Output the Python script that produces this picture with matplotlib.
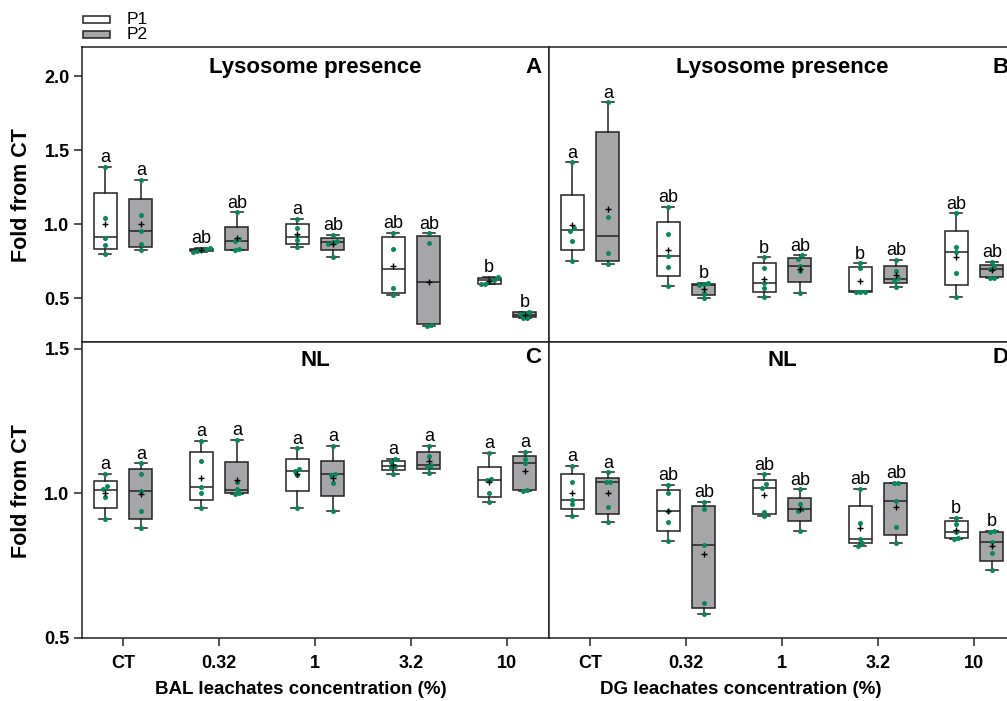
import numpy as np
import matplotlib
matplotlib.use("Agg")
import matplotlib.pyplot as plt
from matplotlib.patches import Rectangle

plt.rcParams['font.family'] = ['Liberation Sans', 'DejaVu Sans']

categories = ["CT", "0.32", "1", "3.2", "10"]
series = ["P1", "P2"]

# panel A - BAL, lysosome presence
bal_lyso_p1_pts = [[1.39, 1.04, 0.91, 0.86, 0.80], [0.84, 0.83, 0.825, 0.82, 0.815],
                   [1.036, 0.973, 0.921, 0.894, 0.845], [0.943, 0.831, 0.568, 0.522],
                   [0.645, 0.625, 0.62, 0.60, 0.595]]
bal_lyso_p1_q = [[0.835, 0.912, 1.209], [0.818, 0.825, 0.835], [0.867, 0.916, 1.0],
                 [0.538, 0.698, 0.912], [0.597, 0.622, 0.639]]
bal_lyso_p1_sig = ["a", "ab", "a", "ab", "b"]
bal_lyso_p2_pts = [[1.30, 1.061, 0.955, 0.865, 0.824], [1.081, 0.90, 0.89, 0.83, 0.824],
                   [0.928, 0.89, 0.88, 0.87, 0.781], [0.94, 0.876, 0.32, 0.31],
                   [0.41, 0.40, 0.395, 0.368, 0.365]]
bal_lyso_p2_q = [[0.849, 0.955, 1.171], [0.824, 0.889, 0.984], [0.826, 0.882, 0.905],
                 [0.324, 0.608, 0.921], [0.372, 0.39, 0.407]]
bal_lyso_p2_sig = ["a", "ab", "ab", "ab", "b"]

# panel B - DG, lysosome presence
dg_lyso_p1_pts = [[1.419, 0.975, 0.955, 0.887, 0.754], [1.119, 0.932, 0.786, 0.714, 0.583],
                  [0.777, 0.705, 0.601, 0.568, 0.507], [0.736, 0.703, 0.545, 0.545, 0.545],
                  [1.074, 0.849, 0.813, 0.669, 0.507]]
dg_lyso_p1_q = [[0.824, 0.959, 1.196], [0.653, 0.786, 1.018], [0.54, 0.603, 0.736],
                [0.545, 0.548, 0.713], [0.59, 0.813, 0.955]]
dg_lyso_p1_sig = ["a", "ab", "b", "b", "ab"]
dg_lyso_p2_pts = [[1.824, 1.047, 0.804, 0.73], [0.605, 0.60, 0.59, 0.534, 0.50],
                  [0.79, 0.765, 0.72, 0.684, 0.534], [0.759, 0.686, 0.635, 0.62, 0.574],
                  [0.747, 0.72, 0.70, 0.64, 0.635]]
dg_lyso_p2_q = [[0.752, 0.923, 1.624], [0.52, 0.59, 0.60], [0.612, 0.72, 0.77],
                [0.601, 0.628, 0.718], [0.642, 0.70, 0.725]]
dg_lyso_p2_sig = ["a", "b", "ab", "ab", "ab"]

# panel C - BAL, NL
bal_nl_p1_pts = [[1.069, 1.025, 1.015, 0.988, 0.911], [1.181, 1.111, 1.022, 1.0, 0.95],
                 [1.156, 1.083, 1.077, 1.063, 0.95], [1.12, 1.11, 1.096, 1.09, 1.069],
                 [1.141, 1.05, 1.045, 1.0, 0.969]]
bal_nl_p1_q = [[0.95, 1.011, 1.044], [0.977, 1.022, 1.143], [1.008, 1.077, 1.119],
               [1.081, 1.096, 1.113], [0.988, 1.045, 1.092]]
bal_nl_p1_sig = ["a", "a", "a", "a", "a"]
bal_nl_p2_pts = [[1.104, 1.066, 1.008, 0.94, 0.881], [1.185, 1.04, 1.014, 1.0, 0.998],
                 [1.165, 1.068, 1.065, 1.035, 0.939], [1.165, 1.129, 1.098, 1.092, 1.071],
                 [1.144, 1.12, 1.105, 1.011, 1.009]]
bal_nl_p2_q = [[0.913, 1.008, 1.083], [1.0, 1.011, 1.109], [0.991, 1.066, 1.113],
               [1.083, 1.098, 1.144], [1.011, 1.107, 1.129]]
bal_nl_p2_sig = ["a", "a", "a", "a", "a"]

# panel D - DG, NL
dg_nl_p1_pts = [[1.095, 1.04, 0.979, 0.965, 0.922], [1.029, 1.0, 0.938, 0.902, 0.835],
                [1.066, 1.032, 1.02, 0.936, 0.922], [1.015, 0.898, 0.844, 0.83, 0.818],
                [0.916, 0.896, 0.865, 0.845, 0.842]]
dg_nl_p1_q = [[0.946, 0.977, 1.066], [0.87, 0.938, 1.011], [0.928, 1.02, 1.046],
              [0.827, 0.844, 0.956], [0.846, 0.865, 0.904]]
dg_nl_p1_sig = ["a", "ab", "ab", "ab", "b"]
dg_nl_p2_pts = [[1.073, 1.04, 1.038, 0.952, 0.90], [0.971, 0.948, 0.823, 0.621, 0.582],
                [1.014, 0.965, 0.946, 0.939, 0.869], [1.037, 1.035, 0.973, 0.884, 0.829],
                [0.871, 0.868, 0.832, 0.794, 0.734]]
dg_nl_p2_q = [[0.928, 1.039, 1.054], [0.605, 0.823, 0.957], [0.904, 0.946, 0.986],
              [0.858, 0.973, 1.037], [0.765, 0.832, 0.867]]
dg_nl_p2_sig = ["a", "ab", "ab", "ab", "b"]

FACES = ["white", "#a6a5a8"]
EDGE = "#222222"
GREEN = "#07885a"
OFFSETS = [-0.185, 0.185]
BOX_W = 0.24
LW = 1.1


def spread(x, vals, tol, step=0.045):
    # put close values side by side so the dots do not hide each other
    order = np.argsort(vals)
    xs = np.full(len(vals), float(x))
    cluster = [order[0]]
    groups = []
    for i in order[1:]:
        if vals[i] - vals[cluster[-1]] < tol:
            cluster.append(i)
        else:
            groups.append(cluster)
            cluster = [i]
    groups.append(cluster)
    for g in groups:
        n = len(g)
        for k, i in enumerate(g):
            xs[i] = x + (k - (n - 1) / 2) * step
    return xs


def draw_panel(ax, groups, tol):
    for s, (pts, quarts, sig) in enumerate(groups):
        pos = np.arange(len(categories)) + OFFSETS[s]
        stats = []
        for p, (q1, med, q3) in zip(pts, quarts):
            stats.append(dict(whislo=min(p), q1=q1, med=med, q3=q3,
                              whishi=max(p), mean=np.mean(p), fliers=[]))
        ax.bxp(stats, positions=pos, widths=BOX_W, patch_artist=True,
               showmeans=True, manage_ticks=False,
               boxprops=dict(facecolor=FACES[s], edgecolor=EDGE, linewidth=LW),
               whiskerprops=dict(color=EDGE, linewidth=LW),
               capprops=dict(color=EDGE, linewidth=LW),
               medianprops=dict(color=EDGE, linewidth=LW),
               meanprops=dict(marker="+", markeredgecolor="black", markersize=5,
                              markeredgewidth=1.0, zorder=5))
        for x, p, lab in zip(pos, pts, sig):
            p = np.array(p)
            ax.scatter(spread(x, p, tol), p, s=13, color=GREEN, linewidths=0, zorder=4)
            ax.annotate(lab, (x, p.max()), xytext=(0, 0.5), textcoords="offset points",
                        ha="center", va="bottom", fontsize=13)


W, H = 1007, 701
fig = plt.figure(figsize=(W / 100, H / 100), dpi=100)

def px_axes(x0, y0, x1, y1):
    return fig.add_axes([x0 / W, 1 - y1 / H, (x1 - x0) / W, (y1 - y0) / H])

ax_a = px_axes(82, 47, 549, 342)
ax_b = px_axes(549, 47, 1016, 342)
ax_c = px_axes(82, 342, 549, 638)
ax_d = px_axes(549, 342, 1016, 638)

draw_panel(ax_a, [(bal_lyso_p1_pts, bal_lyso_p1_q, bal_lyso_p1_sig),
                  (bal_lyso_p2_pts, bal_lyso_p2_q, bal_lyso_p2_sig)], 0.027)
draw_panel(ax_b, [(dg_lyso_p1_pts, dg_lyso_p1_q, dg_lyso_p1_sig),
                  (dg_lyso_p2_pts, dg_lyso_p2_q, dg_lyso_p2_sig)], 0.027)
draw_panel(ax_c, [(bal_nl_p1_pts, bal_nl_p1_q, bal_nl_p1_sig),
                  (bal_nl_p2_pts, bal_nl_p2_q, bal_nl_p2_sig)], 0.014)
draw_panel(ax_d, [(dg_nl_p1_pts, dg_nl_p1_q, dg_nl_p1_sig),
                  (dg_nl_p2_pts, dg_nl_p2_q, dg_nl_p2_sig)], 0.014)

for ax in (ax_a, ax_b, ax_c, ax_d):
    ax.set_xlim(-0.427, 4.4375)
    for sp in ax.spines.values():
        sp.set_linewidth(LW)
        sp.set_color("#222222")
    ax.tick_params(length=6, width=LW, color="#222222")

for ax in (ax_a, ax_b):
    ax.set_ylim(0.205, 2.198)
    ax.set_xticks([])
for ax in (ax_c, ax_d):
    ax.set_ylim(0.5, 1.524)
    ax.set_xticks(np.arange(len(categories)))
    ax.set_xticklabels(categories, fontsize=13, fontweight="bold")
    ax.tick_params(axis="x", pad=6)
for ax in (ax_b, ax_d):
    ax.set_yticks([])

ax_a.set_yticks([0.5, 1.0, 1.5, 2.0])
ax_c.set_yticks([0.5, 1.0, 1.5])
for ax in (ax_a, ax_c):
    ax.set_yticklabels([f"{v:.1f}" for v in ax.get_yticks()], fontsize=13, fontweight="bold")
    ax.tick_params(axis="y", pad=3)

# panel titles and letters
for ax, title, letter in [(ax_a, "Lysosome presence", "A"), (ax_b, "Lysosome presence", "B")]:
    ax.text(0.5, 0.932, title, transform=ax.transAxes, ha="center", va="center",
            fontsize=16, fontweight="bold")
    ax.text(0.966, 0.932, letter, transform=ax.transAxes, ha="center", va="center",
            fontsize=16, fontweight="bold")
for ax, title, letter in [(ax_c, "NL", "C"), (ax_d, "NL", "D")]:
    ax.text(0.5, 0.936, title, transform=ax.transAxes, ha="center", va="center",
            fontsize=16, fontweight="bold")
    ax.text(0.966, 0.946, letter, transform=ax.transAxes, ha="center", va="center",
            fontsize=16, fontweight="bold")

# shared axis labels
for yc in (195, 491):
    fig.text(22 / W, 1 - yc / H, "Fold from CT", rotation=90, ha="center", va="center",
             fontsize=15.5, fontweight="bold")
fig.text(301 / W, 1 - 690 / H, "BAL leachates concentration (%)", ha="center",
         va="center", fontsize=13.5, fontweight="bold")
fig.text(741 / W, 1 - 690 / H, "DG leachates concentration (%)", ha="center",
         va="center", fontsize=13.5, fontweight="bold")

# legend
for i, (name, face) in enumerate(zip(series, FACES)):
    yc = 19.5 + 15 * i
    fig.patches.append(Rectangle((83 / W, 1 - (yc + 3.5) / H), 27 / W, 7 / H,
                                 transform=fig.transFigure, facecolor=face,
                                 edgecolor=EDGE, linewidth=LW))
    fig.text(127 / W, 1 - yc / H, name, ha="left", va="center", fontsize=12.5)

fig.savefig("out.png", dpi=100)
